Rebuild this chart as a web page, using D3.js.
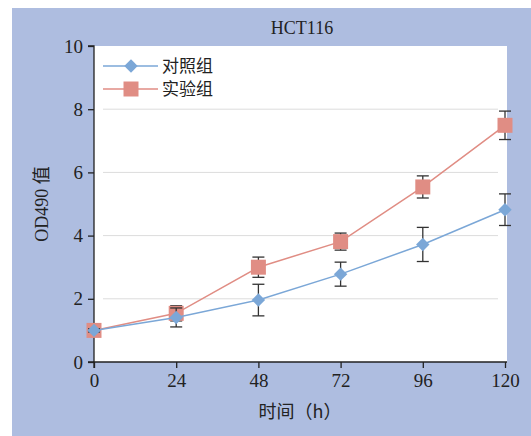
<!DOCTYPE html>
<html lang="zh">
<head>
<meta charset="UTF-8">
<title>HCT116</title>
<script src="https://d3js.org/d3.v7.min.js"></script>
<style>
  body { margin: 0; background: #fff; }
  text { font-family: "Liberation Serif", "Noto Sans CJK SC", serif; fill: #222; }
</style>
</head>
<body>
<script>
const hours = [0, 24, 48, 72, 96, 120];
const controlMean = [1.0, 1.41, 1.96, 2.78, 3.72, 4.82];
const controlErr = [0.05, 0.3, 0.5, 0.38, 0.54, 0.5];
const treatMean = [1.0, 1.54, 3.0, 3.81, 5.54, 7.49];
const treatErr = [0.05, 0.24, 0.32, 0.27, 0.35, 0.45];
const yTicks = [0, 2, 4, 6, 8, 10];
const seriesNames = ["对照组", "实验组"];

const W = 531, H = 436;
const svg = d3.select("body").append("svg").attr("width", W).attr("height", H);

// panel background
svg.append("rect").attr("x", 12).attr("y", 8).attr("width", W - 12).attr("height", H - 8)
  .attr("fill", "#aebde0");

const x = d3.scaleLinear().domain([0, 120]).range([94, 505]);
const y = d3.scaleLinear().domain([0, 10]).range([362, 46]);

svg.append("rect").attr("x", 94).attr("y", 46).attr("width", 413).attr("height", 316).attr("fill", "#fff");

// grid
svg.append("g").selectAll("line").data(yTicks.filter(d => d > 0 && d < 10)).join("line")
  .attr("x1", 103).attr("x2", 498)
  .attr("y1", d => y(d)).attr("y2", d => y(d))
  .attr("stroke", "#dcdcdc").attr("stroke-width", 1);

// axes
const yAxis = svg.append("g").attr("transform", "translate(94,0)")
  .call(d3.axisLeft(y).tickValues(yTicks).tickSize(6).tickPadding(5));
const xAxis = svg.append("g").attr("transform", "translate(0,362)")
  .call(d3.axisBottom(x).tickValues(hours).tickSize(6).tickPadding(6));
[yAxis, xAxis].forEach(a => {
  a.select(".domain").attr("stroke", "#222").attr("stroke-width", 1.3);
  a.selectAll(".tick line").attr("stroke", "#222").attr("stroke-width", 1.3);
  a.selectAll(".tick text").attr("font-size", 19).attr("fill", "#222")
    .style("font-family", "'Liberation Serif', serif");
});
yAxis.select(".domain").attr("d", "M-6,362H0V46H-6");
xAxis.select(".domain").attr("d", "M94,6V0H507");

// diamond = square turned 45 degrees
const series = [
  { name: seriesNames[0], mean: controlMean, err: controlErr, color: "#7ba7d7", rot: 45, size: 90 },
  { name: seriesNames[1], mean: treatMean, err: treatErr, color: "#e08d84", rot: 0, size: 225 }
];

const line = d3.line().x((d, i) => x(hours[i])).y(d => y(d));

// draw treat first so control sits on top
[series[1], series[0]].forEach(s => {
  const g = svg.append("g");
  g.append("path").attr("d", line(s.mean)).attr("fill", "none")
    .attr("stroke", s.color).attr("stroke-width", 1.5);
  const eb = g.append("g").selectAll("g").data(s.mean.map((m, i) => ({ m, e: s.err[i], h: hours[i] })))
    .join("g").attr("stroke", "#333").attr("stroke-width", 1.3);
  eb.append("line").attr("x1", d => x(d.h)).attr("x2", d => x(d.h))
    .attr("y1", d => y(d.m + d.e)).attr("y2", d => y(d.m - d.e));
  eb.append("line").attr("x1", d => x(d.h) - 6).attr("x2", d => x(d.h) + 6)
    .attr("y1", d => y(d.m + d.e)).attr("y2", d => y(d.m + d.e));
  eb.append("line").attr("x1", d => x(d.h) - 6).attr("x2", d => x(d.h) + 6)
    .attr("y1", d => y(d.m - d.e)).attr("y2", d => y(d.m - d.e));
  g.append("g").selectAll("path").data(s.mean).join("path")
    .attr("transform", (d, i) => `translate(${x(hours[i])},${y(d)}) rotate(${s.rot})`)
    .attr("d", d3.symbol().type(d3.symbolSquare).size(s.size))
    .attr("fill", s.color);
});

// legend
series.forEach((s, i) => {
  const ly = 66 + i * 23;
  svg.append("line").attr("x1", 103).attr("x2", 158).attr("y1", ly).attr("y2", ly)
    .attr("stroke", s.color).attr("stroke-width", 1.5);
  svg.append("path").attr("transform", `translate(131,${ly}) rotate(${s.rot})`)
    .attr("d", d3.symbol().type(d3.symbolSquare).size(s.size)).attr("fill", s.color);
  svg.append("text").attr("x", 162).attr("y", ly + 6).attr("font-size", 17)
    .style("font-family", "'Noto Sans CJK SC', sans-serif").text(s.name);
});

// titles
svg.append("text").attr("x", 302).attr("y", 34).attr("text-anchor", "middle")
  .attr("font-size", 18).text("HCT116");
svg.append("text").attr("x", 300).attr("y", 418).attr("text-anchor", "middle")
  .attr("font-size", 18).style("font-family", "'Noto Sans CJK SC', sans-serif").text("时间（h）");
svg.append("text").attr("transform", "translate(48,204) rotate(-90)").attr("text-anchor", "middle")
  .attr("font-size", 18).style("font-family", "'Liberation Serif', 'Noto Sans CJK SC', serif").text("OD490 值");
</script>
</body>
</html>
